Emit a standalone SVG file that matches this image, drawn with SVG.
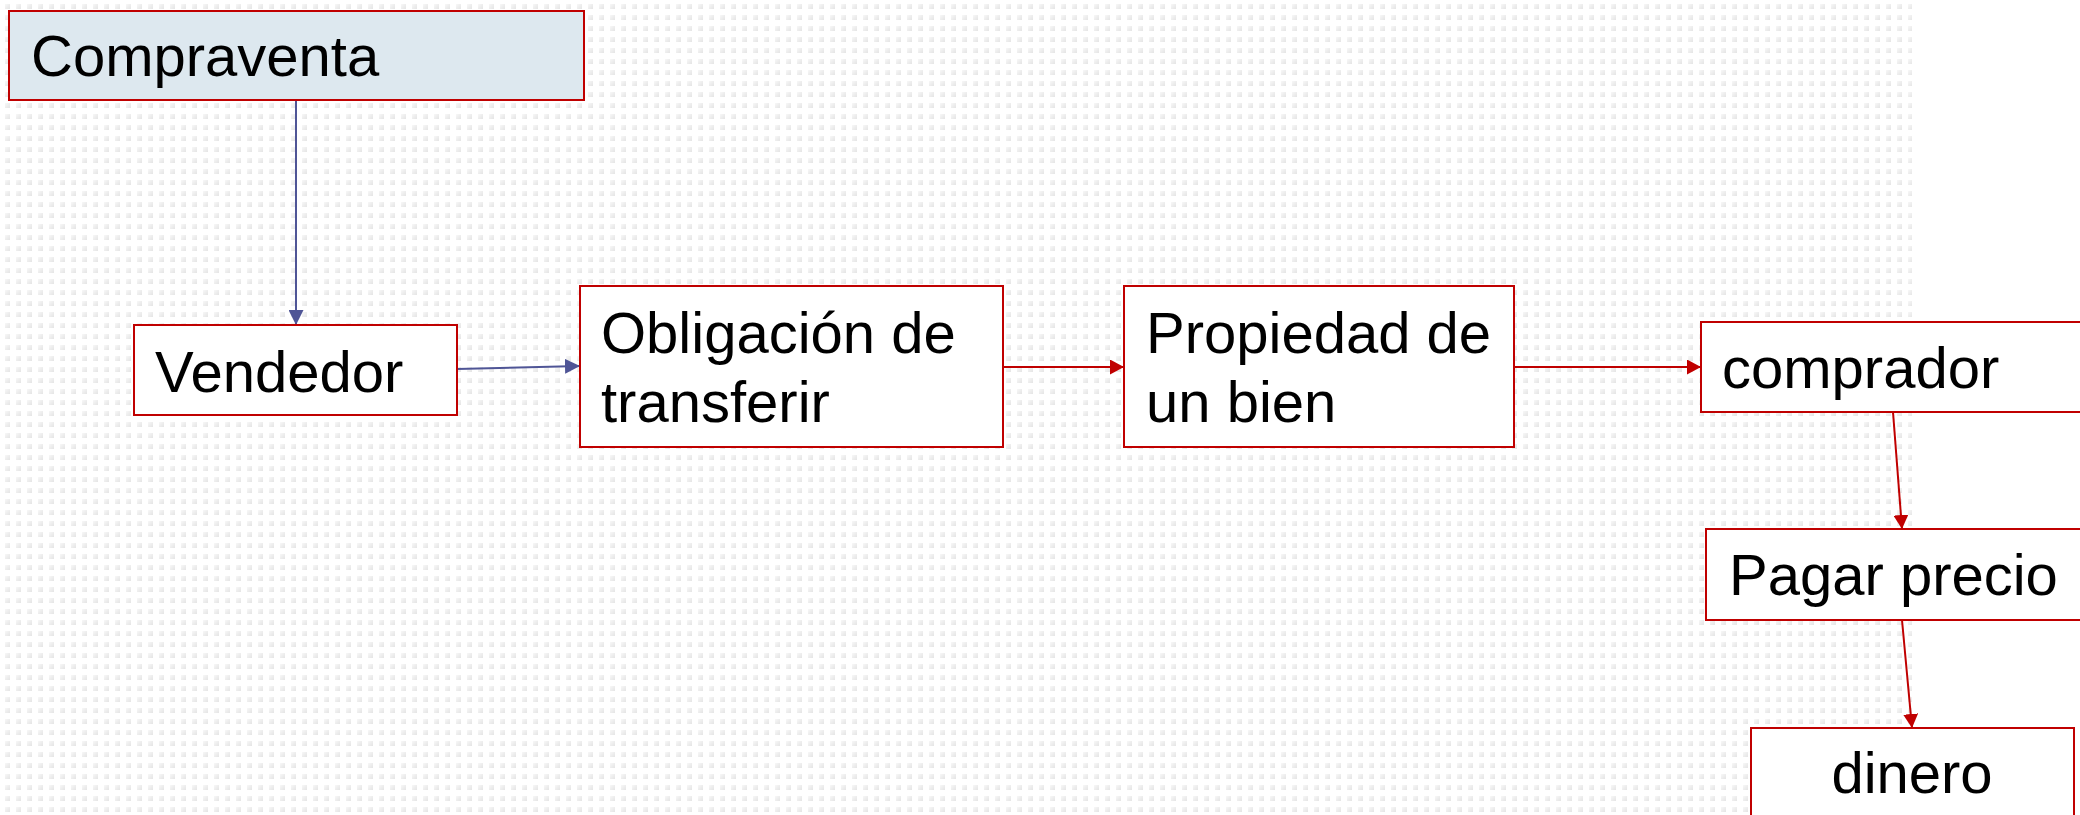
<svg xmlns="http://www.w3.org/2000/svg" width="2080" height="815" viewBox="0 0 2080 815">
  <style>
    .box { fill: #ffffff; stroke: #c00000; stroke-width: 2; }
    .title { fill: #dde8ef; }
    .lbl { font-family: "Liberation Sans", Arial, sans-serif; font-size: 58px; fill: #000000; }
    .cb { stroke: #4f5596; stroke-width: 2; fill: none; marker-end: url(#ab); }
    .cr { stroke: #c00000; stroke-width: 2; fill: none; marker-end: url(#ar); }
  </style>
  <defs>
    <linearGradient id="dg" x1="0" y1="0" x2="1" y2="1">
      <stop offset="0" stop-color="#f8f8f8"/>
      <stop offset="1" stop-color="#e4e4e4"/>
    </linearGradient>
    <pattern id="dots" patternUnits="userSpaceOnUse" x="5" y="4" width="11" height="11">
      <rect x="0" y="0" width="5" height="5" fill="url(#dg)"/>
    </pattern>
    <marker id="ab" markerUnits="userSpaceOnUse" markerWidth="15" markerHeight="15" refX="15" refY="7.5" orient="auto">
      <path d="M0,0 L15,7.5 L0,15 z" fill="#4f5596"/>
    </marker>
    <marker id="ar" markerUnits="userSpaceOnUse" markerWidth="15" markerHeight="15" refX="14" refY="7.5" orient="auto">
      <path d="M0,0 L14,7.5 L0,15 z" fill="#c00000"/>
    </marker>
  </defs>
  <rect x="0" y="0" width="2080" height="815" fill="#ffffff"/>
  <rect x="0" y="0" width="1912" height="815" fill="url(#dots)"/>

  <g id="connectors">
    <line class="cb" x1="296" y1="100" x2="296" y2="325"/>
    <line class="cb" x1="457" y1="369" x2="580" y2="366"/>
    <line class="cr" x1="1003" y1="367" x2="1124" y2="367"/>
    <line class="cr" x1="1514" y1="367" x2="1701" y2="367"/>
    <line class="cr" x1="1893" y1="412" x2="1902" y2="529"/>
    <line class="cr" x1="1902" y1="620" x2="1912" y2="728"/>
  </g>

  <g id="compraventa">
    <rect class="box title" x="9" y="11" width="575" height="89"/>
    <text class="lbl" x="31" y="76">Compraventa</text>
  </g>
  <g id="vendedor">
    <rect class="box" x="134" y="325" width="323" height="90"/>
    <text class="lbl" x="155" y="392">Vendedor</text>
  </g>
  <g id="obligacion">
    <rect class="box" x="580" y="286" width="423" height="161"/>
    <text class="lbl" x="601" y="353">Obligación de</text>
    <text class="lbl" x="601" y="422">transferir</text>
  </g>
  <g id="propiedad">
    <rect class="box" x="1124" y="286" width="390" height="161"/>
    <text class="lbl" x="1146" y="353">Propiedad de</text>
    <text class="lbl" x="1146" y="422">un bien</text>
  </g>
  <g id="comprador">
    <rect class="box" x="1701" y="322" width="420" height="90"/>
    <text class="lbl" x="1722" y="388">comprador</text>
  </g>
  <g id="pagar">
    <rect class="box" x="1706" y="529" width="420" height="91"/>
    <text class="lbl" x="1729" y="595">Pagar precio</text>
  </g>
  <g id="dinero">
    <rect class="box" x="1751" y="728" width="323" height="92"/>
    <text class="lbl" x="1912" y="793" text-anchor="middle">dinero</text>
  </g>
</svg>
